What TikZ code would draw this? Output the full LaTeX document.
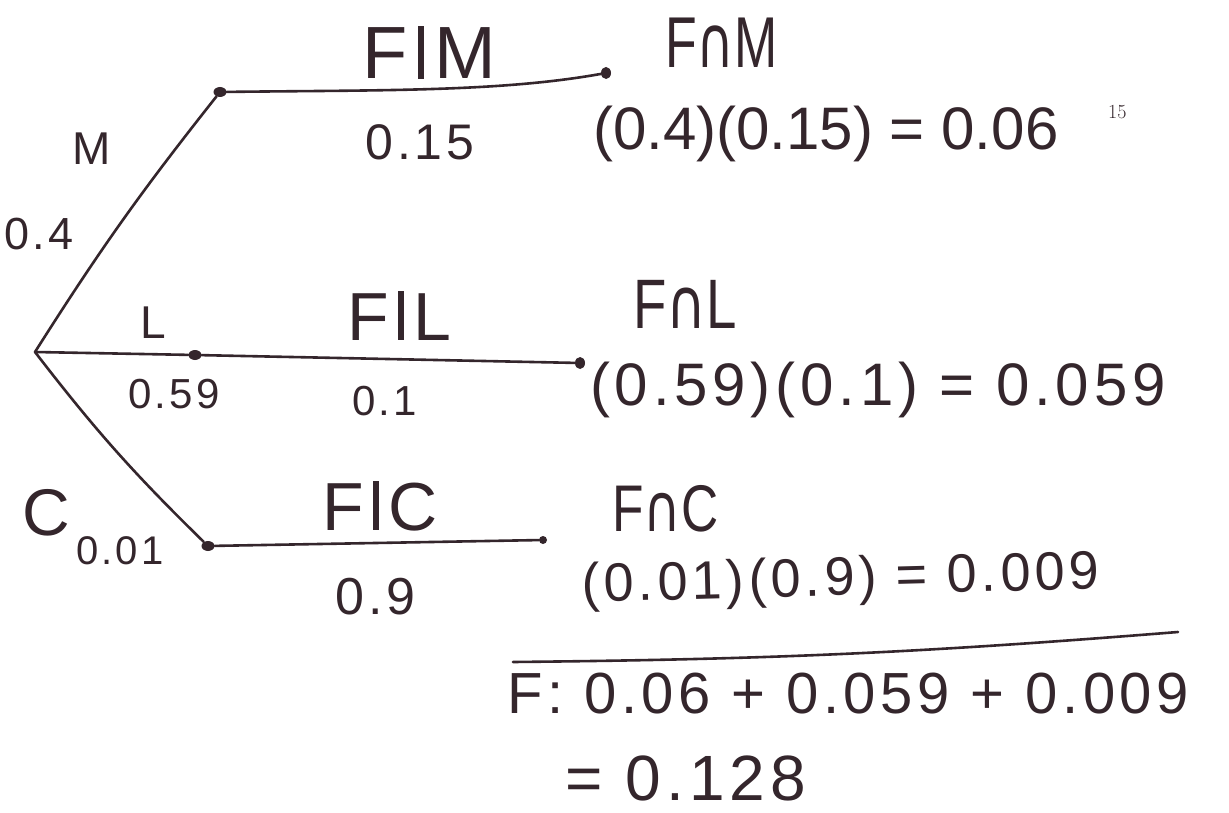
\documentclass[tikz,border=0pt]{standalone}
\usepackage{fontspec}
\usetikzlibrary{shapes.geometric}
\newfontfamily\hand[LetterSpace=8]{Liberation Sans}
\newfontfamily\handtight{Liberation Sans}
\newfontfamily\capsym{DejaVu Sans}
\newfontfamily\folio{Latin Modern Roman}
\definecolor{ink}{RGB}{52,38,44}
\newcommand{\hs}[1]{\hand\fontsize{#1}{#1}\selectfont}
\newcommand{\tightsz}[1]{\handtight\fontsize{#1}{#1}\selectfont}
\newcommand{\isect}{{\capsym ∩}}
\newcommand{\vbar}{\hspace{0.14em}{\color{ink}\rule{0.085em}{0.72em}}\hspace{0.14em}}
\begin{document}
\begin{tikzpicture}[x=1pt,y=-1pt,
    txt/.style={inner sep=0pt,anchor=base west,text=ink},
    branch/.style={draw=ink,line width=2.6pt,line cap=round},
    knot/.style={ellipse,fill=ink,inner sep=0pt,minimum width=13pt,minimum height=10pt},
    tip/.style={ellipse,fill=ink,inner sep=0pt,minimum width=10pt,minimum height=12pt}]
\useasboundingbox[fill=white] (0,0) rectangle (1229,813);

% tree nodes
\coordinate (root) at (35,352);
\node[knot] (m) at (220,92) {};
\node[knot] (l) at (195,355) {};
\node[knot] (c) at (208,546) {};
\node[tip] (em) at (606,73) {};
\node[tip] (el) at (580,363) {};
\node[tip,minimum width=8pt,minimum height=8pt] (ec) at (543,540) {};

% branches
\draw[branch] (root) to[bend left=3] (m);
\draw[branch] (root) -- (l);
\draw[branch] (root) to[bend right=4] (c);
\draw[branch] (m) .. controls (380,90) and (500,92) .. (em);
\draw[branch] (l) -- (el);
\draw[branch] (c) -- (ec);

% first-stage labels
\node[txt,font=\hs{46}] (lm) at (72,165) {M};
\node[txt,font=\hs{45}] (pm) at (4,250) {0.4};
\node[txt,font=\hs{46}] (ll) at (140,338) {L};
\node[txt,font=\hs{42}] (pl) at (128,408) {0.59};
\node[txt,font=\hs{66}] (lc) at (22,535) {C};
\node[txt,font=\hs{40}] (pc) at (76,564) {0.01};

% conditional labels
\node[txt,font=\hs{74}] (fm) at (362,79) {F\vbar M};
\node[txt,font=\hs{50}] (pfm) at (365,160) {0.15};
\node[txt,font=\hs{68}] (fl) at (347,340) {F\vbar L};
\node[txt,font=\hs{42}] (pfl) at (352,415) {0.1};
\node[txt,font=\hs{68}] (fc) at (322,530) {F\vbar C};
\node[txt,font=\hs{52}] (pfc) at (335,614) {0.9};

% joint probabilities
\node[txt,font=\tightsz{72}] (jm) at (665,68) {\scalebox{0.72}[1]{F\isect M}};
\node[txt,font=\tightsz{60}] (vm) at (593,150) {(0.4)(0.15) = 0.06};
\node[txt,font=\folio\fontsize{20}{20}\selectfont] (folio) at (1108,119) {15};
\node[txt,font=\tightsz{70}] (jl) at (633,328) {\scalebox{0.78}[1]{F\isect L}};
\node[txt,font=\hs{60}] (vl) at (590,405) {(0.59)(0.1) = 0.059};
\node[txt,font=\tightsz{66}] (jc) at (612,531) {\scalebox{0.78}[1]{F\isect C}};
\node[txt,font=\hs{54},rotate=1.5] (vc) at (582,602) {(0.01)(0.9) = 0.009};

% total
\coordinate (r1) at (513,662);
\coordinate (r2) at (1178,632);
\draw[branch] (r1) to[bend right=2] (r2);
\node[txt,font=\hs{58}] (tot) at (507,713) {F: 0.06 + 0.059 + 0.009};
\node[txt,font=\hs{64}] (res) at (565,800) {= 0.128};
\end{tikzpicture}
\end{document}
